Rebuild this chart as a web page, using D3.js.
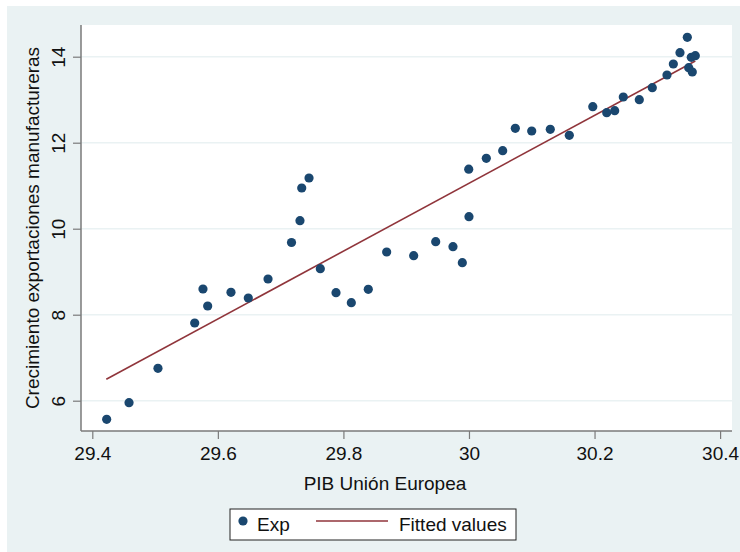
<!DOCTYPE html>
<html>
<head>
<meta charset="utf-8">
<script src="https://cdn.jsdelivr.net/npm/d3@7"></script>
<style>
  body { margin: 0; background: #fff; }
  svg { display: block; font-family: "Liberation Sans", Arial, sans-serif; }
</style>
</head>
<body>
<div id="chart"></div>
<script>
// PIB Unión Europea (log) vs crecimiento exportaciones manufactureras
const pib = [
  29.4229, 29.4585, 29.5046, 29.5631, 29.5763, 29.5838, 29.6209, 29.6485,
  29.6799, 29.7173, 29.7308, 29.7336, 29.7452, 29.7632, 29.7882, 29.8126,
  29.8396, 29.8689, 29.9119, 29.9470, 29.9745, 29.9894, 30.0000, 29.9996,
  30.0276, 30.0537, 30.0738, 30.0999, 30.1295, 30.1598, 30.1972, 30.2194,
  30.2321, 30.2458, 30.2713, 30.2920, 30.3154, 30.3255, 30.3361, 30.3478,
  30.3500, 30.3557, 30.3541, 30.3605
];
const exp = [
  5.567, 5.953, 6.753, 7.807, 8.598, 8.202, 8.521, 8.388,
  8.830, 9.679, 10.186, 10.947, 11.179, 9.070, 8.512, 8.279,
  8.591, 9.458, 9.372, 9.698, 9.581, 9.209, 10.279, 11.384,
  11.637, 11.814, 12.335, 12.272, 12.312, 12.172, 12.837, 12.698,
  12.744, 13.063, 13.000, 13.279, 13.574, 13.830, 14.093, 14.451,
  13.744, 13.644, 13.986, 14.023
];
// fitted values at the ends of the sample
const fitX = [29.4223, 30.3605];
const fitY = [6.498, 13.90];

const xTicks = [29.4, 29.6, 29.8, 30, 30.2, 30.4];
const yTicks = [6, 8, 10, 12, 14];

const width = 740;
const height = 552;
const plot = { left: 81, right: 732, top: 25, bottom: 431 };
const fontSize = 19;

const bg = "#eaf2f3";
const navy = "#1a476f";
const red = "#90353b";

const x = d3.scaleLinear().domain([29.4, 30.4]).range([92.3, 720.1]);
const y = d3.scaleLinear().domain([6, 14]).range([400.7, 56.7]);

const svg = d3.select("#chart").append("svg")
  .attr("width", width)
  .attr("height", height);

svg.append("rect")
  .attr("x", 7).attr("y", 6)
  .attr("width", width - 7).attr("height", height - 6)
  .attr("fill", bg);

svg.append("rect")
  .attr("x", plot.left).attr("y", plot.top)
  .attr("width", plot.right - plot.left)
  .attr("height", plot.bottom - plot.top)
  .attr("fill", "#fff");

// horizontal grid
svg.append("g")
  .selectAll("line")
  .data(yTicks)
  .join("line")
  .attr("x1", plot.left).attr("x2", plot.right)
  .attr("y1", (d) => y(d)).attr("y2", (d) => y(d))
  .attr("stroke", bg)
  .attr("stroke-width", 1.5);

// y axis
const yAxis = svg.append("g")
  .attr("transform", `translate(${plot.left},0)`)
  .call(d3.axisLeft(y).tickValues(yTicks).tickSize(8).tickPadding(0).tickFormat(d3.format("d")));
yAxis.select(".domain").remove();
yAxis.selectAll(".tick line").attr("stroke", "#7a7a7a").attr("stroke-width", 1.2);
yAxis.selectAll(".tick text")
  .attr("x", 0).attr("dy", null)
  .attr("text-anchor", "middle")
  .attr("transform", "translate(-23,0) rotate(-90)")
  .attr("dominant-baseline", "central")
  .attr("font-size", fontSize)
  .attr("fill", "#111");
svg.append("line")
  .attr("x1", plot.left).attr("x2", plot.left)
  .attr("y1", plot.top).attr("y2", plot.bottom)
  .attr("stroke", "#7a7a7a").attr("stroke-width", 1.5);

// x axis
const xAxis = svg.append("g")
  .attr("transform", `translate(0,${plot.bottom})`)
  .call(d3.axisBottom(x).tickValues(xTicks).tickSize(8).tickPadding(8).tickFormat(d3.format("")));
xAxis.select(".domain").remove();
xAxis.selectAll(".tick line").attr("stroke", "#7a7a7a").attr("stroke-width", 1.2);
xAxis.selectAll(".tick text").attr("font-size", fontSize).attr("fill", "#111");
svg.append("line")
  .attr("x1", plot.left).attr("x2", plot.right)
  .attr("y1", plot.bottom).attr("y2", plot.bottom)
  .attr("stroke", "#7a7a7a").attr("stroke-width", 1.5);

// fitted line
svg.append("path")
  .datum(d3.zip(fitX, fitY))
  .attr("d", d3.line().x((d) => x(d[0])).y((d) => y(d[1])))
  .attr("fill", "none")
  .attr("stroke", red)
  .attr("stroke-width", 1.6);

// points
svg.append("g")
  .selectAll("circle")
  .data(d3.zip(pib, exp))
  .join("circle")
  .attr("cx", (d) => x(d[0]))
  .attr("cy", (d) => y(d[1]))
  .attr("r", 4.6)
  .attr("fill", navy);

// titles
svg.append("text")
  .attr("x", 385).attr("y", 490)
  .attr("text-anchor", "middle")
  .attr("font-size", fontSize)
  .attr("fill", "#111")
  .text("PIB Unión Europea");

svg.append("text")
  .attr("transform", `translate(39,${(plot.top + plot.bottom) / 2}) rotate(-90)`)
  .attr("text-anchor", "middle")
  .attr("font-size", fontSize)
  .attr("fill", "#111")
  .text("Crecimiento exportaciones manufactureras");

// legend
const legend = svg.append("g");
legend.append("rect")
  .attr("x", 230).attr("y", 509)
  .attr("width", 286).attr("height", 31)
  .attr("fill", "#fff")
  .attr("stroke", "#222")
  .attr("stroke-width", 1);
legend.append("circle")
  .attr("cx", 243).attr("cy", 521)
  .attr("r", 4.6)
  .attr("fill", navy);
legend.append("text")
  .attr("x", 257).attr("y", 531)
  .attr("font-size", fontSize).attr("fill", "#111")
  .text("Exp");
legend.append("line")
  .attr("x1", 316).attr("x2", 388)
  .attr("y1", 521).attr("y2", 521)
  .attr("stroke", red).attr("stroke-width", 1.6);
legend.append("text")
  .attr("x", 399).attr("y", 531)
  .attr("font-size", fontSize).attr("fill", "#111")
  .text("Fitted values");
</script>
</body>
</html>
